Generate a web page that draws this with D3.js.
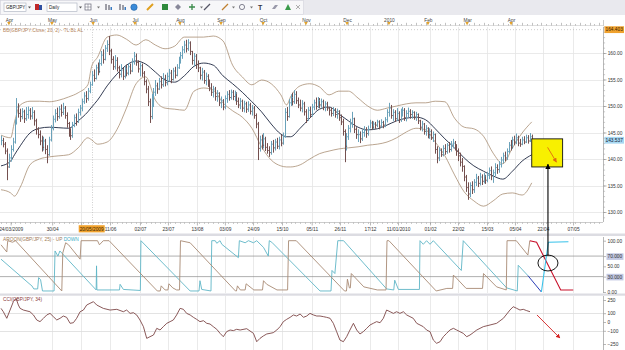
<!DOCTYPE html>
<html><head><meta charset="utf-8">
<script src="https://cdn.jsdelivr.net/npm/d3@7"></script>
<style>
html,body{margin:0;padding:0;background:#fff;}
svg{display:block;}
</style></head><body>
<svg id="c" width="625" height="350"></svg>
<script>
// ---------------- DATA ----------------
const highs=[144.4,144.0,143.2,142.0,141.0,142.6,144.0,147.5,151.5,150.5,
149.5,149.6,149.3,149.8,149.9,149.6,149.8,149.2,147.6,146.0,
145.4,144.4,144.2,143.8,142.6,144.2,146.4,148.2,149.4,149.7,
150.0,150.3,150.6,150.0,148.8,147.0,145.8,147.0,148.4,148.6,
149.5,150.2,151.4,152.6,152.8,153.4,154.6,156.6,156.9,157.8,
158.2,158.8,160.4,160.7,161.5,162.4,163.2,160.8,159.4,159.6,
159.2,157.6,157.9,157.2,157.6,157.8,158.1,158.0,159.0,160.2,
159.9,158.6,158.2,158.0,156.6,155.0,153.8,151.4,152.3,153.4,
154.9,154.4,155.3,155.6,156.2,155.9,156.3,157.0,156.8,157.2,
157.4,157.9,159.3,160.2,161.3,162.3,162.5,162.6,162.2,160.4,
160.0,159.8,158.6,157.4,157.2,156.8,156.3,156.0,155.0,154.3,
153.8,153.6,153.0,152.6,151.8,151.3,152.0,152.8,153.0,153.1,
153.0,152.9,152.6,151.6,151.5,151.2,151.0,150.8,150.9,150.6,
150.2,150.0,148.6,147.0,144.4,144.6,144.9,144.2,143.0,142.4,
143.4,143.6,143.8,144.0,144.2,144.6,145.0,149.6,149.8,151.3,
152.2,152.5,153.0,152.8,151.6,151.2,151.1,150.8,149.4,149.8,
149.9,150.4,151.2,151.6,151.7,151.5,151.4,151.2,150.9,150.8,
149.8,149.7,149.8,149.6,149.5,149.2,148.4,147.6,145.6,144.9,
146.4,147.6,148.9,147.8,146.0,145.6,145.2,145.6,146.2,146.0,
146.3,147.4,147.2,147.1,147.0,147.4,147.3,147.5,147.2,147.9,
149.4,150.6,150.2,149.4,149.2,149.6,149.0,149.5,149.8,149.6,
149.2,149.7,149.4,149.2,149.0,148.9,148.6,147.4,147.2,146.8,
146.4,146.0,145.8,145.6,145.2,144.8,142.4,142.2,142.0,142.6,
142.8,143.0,143.2,143.4,143.8,143.4,142.8,142.0,141.2,140.2,
138.8,137.0,135.6,135.6,135.8,136.2,137.2,136.8,137.4,137.1,
137.4,137.0,137.6,138.4,138.6,138.0,139.2,139.0,139.6,140.4,
141.2,141.4,142.0,143.2,143.6,144.2,144.4,144.8,144.4,143.8,
144.2,144.3,144.6,144.5,144.9,144.6];
const lows=[142.6,142.2,140.9,136.0,138.3,139.5,141.4,142.9,146.5,147.8,
147.0,147.5,146.8,147.2,147.6,147.4,147.5,146.3,144.6,143.9,
142.6,141.4,141.6,140.9,139.2,140.6,143.3,145.4,146.9,147.2,
147.6,148.0,148.3,147.6,145.9,144.2,143.6,144.0,146.0,146.3,
146.8,148.2,149.0,150.4,150.6,151.0,152.4,153.8,154.6,155.0,
155.8,156.2,157.6,158.0,158.6,160.2,159.6,158.0,156.8,156.9,
156.5,155.2,155.4,154.9,155.2,155.6,155.8,156.0,156.4,157.8,
157.6,156.3,155.6,155.5,153.9,152.4,150.0,146.8,147.5,149.8,
151.9,152.3,153.0,153.3,153.6,153.7,153.9,154.6,154.3,154.8,
155.2,155.6,157.0,158.0,158.9,160.0,160.1,160.4,159.6,157.8,
157.5,157.0,156.4,155.0,154.8,154.2,153.9,153.6,152.8,151.9,
151.6,151.0,150.8,150.0,149.6,149.2,149.4,150.6,151.0,151.2,
151.1,150.9,150.2,149.6,149.4,148.9,148.8,148.7,148.9,148.4,
148.2,147.6,145.8,139.8,141.4,141.8,142.0,141.5,141.0,140.4,
140.8,141.2,141.6,141.9,141.8,142.4,142.7,144.0,147.2,147.8,
150.0,150.1,150.4,150.4,149.6,149.0,148.8,148.2,146.8,147.2,
147.8,148.0,149.2,149.3,149.6,149.6,149.7,149.2,149.0,149.1,
148.2,148.0,148.1,147.8,147.6,147.2,146.4,144.4,139.4,141.6,
143.6,145.0,145.9,144.9,143.8,143.2,143.0,143.4,144.2,144.0,
144.4,145.8,145.5,145.6,145.7,146.0,145.6,145.9,145.8,146.0,
146.9,148.0,147.6,147.2,147.0,147.2,146.8,147.0,148.0,147.2,
147.1,147.8,147.6,147.6,147.4,147.2,146.6,145.4,145.2,144.6,
144.4,143.9,143.8,143.6,143.2,141.0,139.2,139.6,140.4,140.5,
140.8,141.0,141.2,141.4,142.0,141.6,140.6,139.6,138.6,137.6,
135.8,133.8,132.3,132.8,133.4,133.6,134.9,134.7,135.0,135.1,
135.4,135.3,135.6,136.2,136.0,135.5,136.8,137.2,137.4,138.4,
139.2,139.6,139.8,141.1,141.6,141.9,142.6,142.8,142.4,142.3,
142.6,142.8,143.0,142.9,143.2,143.1];
const closes=[143.5,142.8,141.5,138.5,140.2,141.8,143.2,146.8,149.8,148.6,
148.0,148.9,147.6,148.4,149.2,148.1,148.8,147.2,145.6,144.6,
143.4,142.2,143.4,141.8,140.8,143.6,145.8,147.5,148.6,148.0,
149.4,148.8,149.6,148.2,146.7,145.0,144.4,146.4,147.8,147.0,
148.8,149.6,150.8,151.9,151.4,152.8,154.0,155.8,155.2,157.2,
156.5,158.0,159.6,158.8,160.9,161.6,160.4,158.8,157.4,158.6,
157.2,156.0,156.8,155.6,157.0,156.2,157.4,156.6,158.3,159.4,
158.2,157.0,157.6,156.2,154.6,153.2,150.8,148.0,150.9,152.6,
153.8,153.2,154.6,154.0,155.2,154.4,155.6,156.2,155.0,156.6,
155.8,157.2,158.6,159.5,160.6,161.5,160.8,161.9,160.3,158.6,
159.4,157.8,157.2,155.8,156.4,154.8,155.6,154.2,153.4,152.6,
153.2,151.8,152.4,150.6,151.0,149.8,151.4,152.2,151.6,152.6,
151.8,152.4,150.9,150.2,150.9,149.6,150.4,149.4,150.2,149.0,
149.6,148.2,146.6,142.0,143.6,142.6,143.8,142.2,141.6,141.2,
142.8,142.1,143.2,142.4,143.6,143.0,144.2,148.8,148.0,150.6,
151.6,150.8,152.2,151.0,150.2,149.6,150.4,148.9,147.6,149.2,
148.4,149.8,150.6,149.9,151.0,150.2,150.8,149.8,150.4,149.6,
149.2,148.6,149.3,148.4,149.0,147.8,147.0,145.2,142.4,144.2,
145.8,146.6,147.6,145.6,144.6,144.6,143.8,145.0,145.4,144.8,
145.6,146.8,146.0,146.6,146.4,147.0,146.2,146.9,146.4,147.4,
148.8,149.6,148.2,148.8,147.6,148.6,147.4,148.8,149.2,147.8,
148.6,149.0,148.4,148.8,147.8,148.4,147.2,146.0,146.6,145.2,
145.8,144.6,145.2,144.0,144.6,141.8,140.2,141.6,140.8,142.0,
141.4,142.6,141.8,142.8,143.0,142.2,141.4,140.6,139.4,138.6,
136.6,134.6,133.4,135.0,134.2,135.6,136.4,135.4,136.6,135.8,
136.8,136.0,136.9,137.8,136.8,137.4,138.4,138.0,139.0,139.8,
140.6,140.2,141.4,142.6,142.2,143.6,143.2,144.0,143.0,142.8,
143.6,143.2,144.0,143.4,144.2,143.537];

// Bollinger band values (bar index -> price)
const bandIdx=[0,5,7,10,15,20,25,30,35,40,45,47,50,55,60,65,70,75,80,85,90,95,100,105,110,115,120,125,130,135,140,145,148,150,155,160,165,170,175,180,185,190,195,200,205,210,215,220,225,230,235,240,245,250,255,260,265,270,275];
const bandUpper=[144.5,144.0,147.0,150.2,150.9,150.9,150.8,151.1,151.7,152.5,154.0,157.5,159.2,163.0,163.4,162.6,161.5,162.5,161.5,160.8,161.3,163.0,163.0,163.0,163.2,162.3,157.7,155.5,154.0,154.9,154.2,152.1,150.2,151.7,153.8,154.2,153.6,152.1,152.8,152.8,151.5,150.0,149.2,149.6,150.0,150.4,150.6,150.6,150.9,150.8,147.7,146.0,145.7,144.3,141.1,139.1,142.1,144.9,147.0];
const bandMiddle=[138.7,139.6,140.8,142.5,144.9,145.8,146.0,145.9,145.8,147.2,148.9,149.8,151.1,153.8,156.0,157.7,158.5,157.9,156.4,154.9,154.5,155.7,157.5,158.1,157.7,155.7,154.2,152.6,150.8,148.9,146.6,144.7,144.2,144.2,145.8,147.7,149.4,149.8,148.5,147.2,146.0,145.5,145.7,146.4,147.2,147.7,147.9,147.4,145.7,143.8,142.1,140.2,138.7,137.7,136.8,136.2,137.7,139.6,140.8];
const bandLower=[134.2,133.6,133.0,134.7,138.9,140.0,140.4,140.6,140.8,142.1,144.0,143.6,142.8,143.2,145.5,149.6,154.2,155.5,151.1,149.6,149.4,149.2,152.8,153.4,153.0,150.6,149.1,147.9,145.8,142.3,139.8,138.7,138.5,138.5,138.9,140.0,141.0,141.5,141.9,142.1,142.3,142.6,142.8,143.2,144.0,145.1,145.8,145.5,143.2,140.6,137.0,133.8,132.1,131.1,132.1,133.4,133.6,133.2,135.5];

// Aroon(25) vertices
const upIdx=[0,3,3.5,6,7.5,31.5,32,33.5,35,41,41.5,50,51,53,56,81,82.5,83,85,86.5,87,89,91,92.5,93,98,121.5,122,122.5,124,126.5,127,131,135.5,136,137.7,143,148.5,149,153,178,179,179.5,180.5,181,181.5,183,188,195,199.5,200,201,225.5,231,234,234.4,236,241,249.5,250,250.8,256.8,261.8,262.2,267,273,274];
const upVal=[92,78,100,97,100,2,76,96,92,64,100,100,92,100,100,2,2,12,4,4,16,8,4,4,100,96,2,2,12,4,4,16,4,4,22,15,4,4,100,100,2,2,25,8,8,36,30,10,4,4,100,100,2,7,7,33,27,7,7,36,33,10,4,100,100,72,100];
const downIdx=[0,15,16,17,19,19.5,20.5,21.5,27.5,28,29.5,30.5,49.3,49.5,49.7,61.4,61.7,63.4,72.2,72.5,98,102.6,103.1,104,108.8,109.2,111,111.8,113.5,114.4,123,123.5,126.5,128.2,130.8,132.5,136,138.5,139,140.3,165.3,171,171.5,173,174.5,177.5,199.8,203.5,204,205.9,216.8,217.1,218.8,220.5,222.3,224,238.5,239.5,262,267.5,268,273];
const downVal=[64,15,12,6,6,28,24,2,2,80,70,80,4,51,4,4,15,5,3,100,2,2,22,5,2,100,100,95,100,93,67,100,96,100,96,100,87,70,100,97,2,2,42,36,100,100,6,4,23,5,5,100,93,100,93,100,42,100,8,2,52,32];
// hand-drawn projections
const upProjIdx=[274,277.5,290,296.5], upProjVal=[100,97,4,4];
const downProjIdx=[273,280], downProjVal=[32,0];
const down2ProjIdx=[280,283.6,294], down2ProjVal=[0,97,98];

// CCI(34)
const cciIdx=[0,1.2,3,4.7,6.4,7.8,9,9.9,11.6,15,16.8,18.5,20.2,22,23.7,25.4,27.1,28.9,30.6,32.3,34,35.8,37.5,39.2,41,42.7,44.4,46.1,47.9,49.6,51.3,53,56.5,60,63.4,65.1,66.9,68.6,70.3,72,73.8,75.5,77.2,79,80.7,82.4,84.1,85.9,87.6,89.3,91,92.8,94.5,96.2,98,99.7,101.4,103.1,104.9,106.6,108.3,110,111.8,113.5,115.2,116.9,118.7,120.4,122.1,123.9,127.3,130.8,132.5,134.2,135.9,137.7,139.4,141.1,142.9,144.6,146.3,148,149.8,151.5,153.2,155,156.7,158.4,160.1,161.9,163.6,165.3,167,168.7,170.5,172.2,173.9,175.6,177.4,179.1,180.8,182.6,184.3,186,187.7,189.5,191.2,192.9,194.6,196.4,198.1,199.8,201.6,203.3,205,206.7,208.5,210.2,211.9,213.6,215.4,217.1,218.8,220.5,222.3,224,225.7,227.5,229.2,230.9,232.6,234.4,236.1,237.8,239.5,241.3,243,244.7,246.5,248.2,249.9,253.4,256.8,260.3,263.7,265.4,267.2,268.9,270.6,272.4,274.1];
const cciVal=[155,117,42,136,231,269,193,155,136,117,
80,23,4,42,80,98,61,23,42,68,
53,-15,-8,42,117,136,193,212,231,193,
174,155,136,144,117,136,98,106,80,23,
-53,-186,-167,-148,-72,-91,-53,-15,4,23,
80,155,144,98,80,53,30,4,15,-15,
-23,-53,-83,-129,-167,-110,-91,-98,-83,-91,
-76,-129,-224,-186,-159,-136,-129,-121,-91,-53,
4,30,53,80,68,91,53,68,98,80,
68,68,61,53,42,-15,-110,-205,-224,-167,
-91,-15,-91,-136,-110,-72,-34,-15,4,-8,
42,136,117,98,117,98,117,80,61,42,
-15,-34,-53,-91,-110,-205,-242,-224,-167,-129,
-91,-72,-91,-110,-129,-167,-148,-121,-91,-72,
-53,-34,-15,42,136,174,155,136,144,129,117];

// axis labels (the 21/05 tick label is hidden under the cursor date box in the reference)
const priceTicks=[130,135,140,145,150,155,160];
const dateIdx=[5,26.5,41.5,56.5,72,86.5,101.5,116,130.6,145.6,161,175.6,191.2,205.7,222.3,236.8,251.8,266.3,280.8,296.4];
const dateLbl=["24/03/2009","30/04","","11/06","02/07","23/07","13/08","03/09","24/09","15/10","05/11","26/11","17/12","11/01/2010","01/02","22/02","15/03","05/04","22/04","07/05"];
const monthIdx=[4.1,26.4,47.7,69.4,92.7,114,135.8,158,179.3,201,221.2,241.5,264.3];
const monthLbl=["Apr","May","Jun","Jul","Aug","Sep","Oct","Nov","Dec","2010","Feb","Mar","Apr"];
const aroonTicks=[100,70,50,30,0], aroonTickLbl=["100.00","70.000","50.00","30.000","0.00"];
const cciTicks=[250,100,0,-100,-250];
const cursorIdx=47, cursorLbl="20/05/2009";
const maxPrice=164.403;

// ---------------- DRAW ----------------
const FONT='"Liberation Sans", Arial, sans-serif';
const svg=d3.select('#c').attr('font-family',FONT);
const PR=603;
const x=d3.scaleLinear().domain([0,312]).range([1,1+312*1.93]);
const yP=d3.scaleLinear().domain([130,160]).range([212,53]);
const yA=d3.scaleLinear().domain([0,100]).range([292,240.7]);
const yC=d3.scaleLinear().domain([-250,250]).range([344,300]);
const MT=27, MB=222, AT=237, AB=293, CT=296, CB=350;
const GRID='#e4e4e4';

const defs=svg.append('defs');
defs.append('clipPath').attr('id','cm').append('rect').attr('x',0).attr('y',MT).attr('width',PR).attr('height',MB-MT);
defs.append('clipPath').attr('id','ca').append('rect').attr('x',0).attr('y',AT).attr('width',PR).attr('height',AB-AT);
defs.append('clipPath').attr('id','cc').append('rect').attr('x',0).attr('y',CT).attr('width',PR).attr('height',CB-CT);
function marker(id,color){
  defs.append('marker').attr('id',id).attr('viewBox','0 0 10 10').attr('refX',9).attr('refY',5)
   .attr('markerWidth',5).attr('markerHeight',5).attr('orient','auto')
   .append('path').attr('d','M0,0 L10,5 L0,10 z').attr('fill',color);
}
marker('mo','#e06a10'); marker('mb','#000'); marker('mr','#d42020');

// toolbar
svg.append('rect').attr('x',0).attr('y',0).attr('width',625).attr('height',15).attr('fill','#e9e9ee');
svg.append('rect').attr('x',0.5).attr('y',0.5).attr('width',303).attr('height',14).attr('fill','#f7f7f9').attr('stroke','#d2d2da').attr('stroke-width',0.6);
function dropdown(x0,w,label){
  svg.append('rect').attr('x',x0).attr('y',3).attr('width',w).attr('height',8.5).attr('fill','#fff').attr('stroke','#a8b0bc').attr('stroke-width',0.6);
  svg.append('text').attr('x',x0+2).attr('y',9.2).attr('font-size',4.6).attr('fill','#222').text(label);
  svg.append('path').attr('d',`M${x0+w+2},6.5 l3,0 l-1.5,2 z`).attr('fill','#555');
}
dropdown(4,22,'GBP/JPY'); dropdown(47,30,'Daily');
const tb=svg.append('g');
tb.append('rect').attr('x',35).attr('y',4).attr('width',4).attr('height',6).attr('fill','#c02828');
tb.append('rect').attr('x',39).attr('y',5).attr('width',3).attr('height',5).attr('fill','#3050a0');
tb.append('rect').attr('x',85).attr('y',4).attr('width',6).attr('height',6).attr('fill','#fff').attr('stroke','#667').attr('stroke-width',0.7);
tb.append('path').attr('d','M88,4v6M85,7h6').attr('stroke','#667').attr('stroke-width',0.5);
[97,200,232,250].forEach(a=>tb.append('path').attr('d',`M${a},6.5 l3,0 l-1.5,2 z`).attr('fill','#777'));
[106,120].forEach(a=>{tb.append('path').attr('d',`M${a},4v6M${a+3},5v5`).attr('stroke','#445').attr('stroke-width',1);
  tb.append('rect').attr('x',a+4.5).attr('y',7).attr('width',1.5).attr('height',3).attr('fill','#3a7ac0');});
tb.append('circle').attr('cx',134).attr('cy',7.2).attr('r',3.2).attr('fill','#3a8ad8').attr('stroke','#1d5a9a').attr('stroke-width',0.5);
tb.append('path').attr('d','M147,10 L153,4').attr('stroke','#e0a020').attr('stroke-width',2);
tb.append('rect').attr('x',162).attr('y',4).attr('width',6).attr('height',6).attr('fill','#2f8a3c');
tb.append('path').attr('d','M178,4 l3,3 l-3,3 l-3,-3 z').attr('fill','#889');
tb.append('path').attr('d','M192,4v6M189,7h6').attr('stroke','#3a8a4a').attr('stroke-width',1.3);
tb.append('path').attr('d','M204,10 L210,4').attr('stroke','#556').attr('stroke-width',1.2);
tb.append('path').attr('d','M222,10 L228,4').attr('stroke','#c08030').attr('stroke-width',1.2);
tb.append('circle').attr('cx',242).attr('cy',7).attr('r',2.6).attr('fill','none').attr('stroke','#667').attr('stroke-width',0.8);
tb.append('text').attr('x',258).attr('y',10).attr('font-size',7).attr('font-weight','bold').attr('fill','#334').text('T');
tb.append('path').attr('d','M272,9 l3,-4 h3 l-3,4 z').attr('fill','#99a');
tb.append('path').attr('d','M285,10 l3,-6 l3,6 z').attr('fill','#3a9a4a');
tb.append('path').attr('d','M296,5 l4,4 M300,5 l-4,4').attr('stroke','#999').attr('stroke-width',0.8);

// month ruler
svg.append('rect').attr('x',0).attr('y',15).attr('width',625).attr('height',12).attr('fill','#fff');
svg.append('line').attr('x1',0).attr('x2',PR).attr('y1',25.5).attr('y2',25.5).attr('stroke','#c8c8c8').attr('stroke-width',0.6);
const rulerTicks=d3.range(0,312,2.5);
svg.append('g').selectAll('line').data(rulerTicks).join('line')
  .attr('x1',d=>Math.round(x(d))+0.5).attr('x2',d=>Math.round(x(d))+0.5)
  .attr('y1',(d,i)=>i%2?24:22.8).attr('y2',25.5).attr('stroke','#999').attr('stroke-width',0.6);
svg.append('line').attr('x1',PR+0.5).attr('x2',PR+0.5).attr('y1',20).attr('y2',26).attr('stroke','#aaa').attr('stroke-width',0.6);
const mAxis=d3.axisTop(x).tickValues(monthIdx).tickFormat((d,i)=>monthLbl[i]).tickSize(0).tickPadding(3.5);
const gm=svg.append('g').attr('transform','translate(0,25)').call(mAxis);
gm.select('.domain').remove();
gm.selectAll('text').attr('font-size',4.8).attr('fill','#444').attr('font-family',FONT);
svg.append('g').selectAll('path').data(monthIdx).join('path')
  .attr('d',d=>`M${x(d)-1.8},22 h3.6 l-1.8,3.3 z`).attr('fill','#e2a22a');

// ---- main panel grid ----
const gMainGrid=svg.append('g');
gMainGrid.selectAll('line.h').data(priceTicks).join('line').attr('class','h')
  .attr('x1',0).attr('x2',PR).attr('y1',d=>Math.round(yP(d))+0.5).attr('y2',d=>Math.round(yP(d))+0.5).attr('stroke',GRID).attr('stroke-width',0.8);
gMainGrid.selectAll('line.v').data(dateIdx.slice(1)).join('line').attr('class','v')
  .attr('x1',d=>Math.round(x(d))+0.5).attr('x2',d=>Math.round(x(d))+0.5).attr('y1',MT).attr('y2',MB).attr('stroke',GRID).attr('stroke-width',0.8);
svg.append('line').attr('x1',0).attr('x2',PR).attr('y1',yP(maxPrice)).attr('y2',yP(maxPrice)).attr('stroke','#aaa').attr('stroke-width',0.6).attr('stroke-dasharray','1,2');
svg.append('line').attr('x1',Math.round(x(cursorIdx))+0.5).attr('x2',Math.round(x(cursorIdx))+0.5).attr('y1',MT).attr('y2',MB+3).attr('stroke','#bbb').attr('stroke-width',0.7).attr('stroke-dasharray','1,1.5');

// legend
svg.append('text').attr('x',3).attr('y',31.8).attr('font-size',4.8).attr('fill','#b8875e').text('BB(GBP/JPY:Close, 20, 2) -  TL  BL  AL');

// bands
const gm2=svg.append('g').attr('clip-path','url(#cm)');
const bandLine=arr=>d3.line().x((d,i)=>x(bandIdx[i])).y(d=>yP(d)).curve(d3.curveMonotoneX)(arr);
gm2.append('path').attr('d',bandLine(bandUpper)).attr('fill','none').attr('stroke','#a88e74').attr('stroke-width',0.8);
gm2.append('path').attr('d',bandLine(bandLower)).attr('fill','none').attr('stroke','#a88e74').attr('stroke-width',0.8);
gm2.append('path').attr('d',bandLine(bandMiddle)).attr('fill','none').attr('stroke','#1c2640').attr('stroke-width',0.9);

// bars
const UPC='#6aa2ba', DNC='#74504f';
const barData=closes.map((c,i)=>({i,c,h:highs[i],l:lows[i],up:i>0?c>=closes[i-1]:true}));
const bx=d=>Math.round(x(d.i))+0.5;
gm2.selectAll('line.hl').data(barData).join('line').attr('class','hl')
  .attr('x1',bx).attr('x2',bx).attr('y1',d=>yP(d.h)).attr('y2',d=>yP(d.l))
  .attr('stroke',d=>d.up?UPC:DNC).attr('stroke-width',1);
gm2.selectAll('line.cl').data(barData).join('line').attr('class','cl')
  .attr('x1',d=>bx(d)+0.5).attr('x2',d=>bx(d)+1.6).attr('y1',d=>yP(d.c)).attr('y2',d=>yP(d.c))
  .attr('stroke',d=>d.up?UPC:DNC).attr('stroke-width',0.8);

// price axis
svg.append('line').attr('x1',PR+0.5).attr('x2',PR+0.5).attr('y1',MT).attr('y2',MB).attr('stroke','#9a9a9a').attr('stroke-width',0.7);
const minorP=svg.append('g').attr('transform',`translate(${PR+0.5},0)`).call(d3.axisRight(yP).tickValues(d3.range(129,166)).tickSize(1.6).tickFormat(''));
minorP.select('.domain').remove(); minorP.selectAll('line').attr('stroke','#999').attr('stroke-width',0.5);
const pAx=svg.append('g').attr('transform',`translate(${PR+0.5},0)`).call(d3.axisRight(yP).tickValues(priceTicks).tickFormat(d=>d.toFixed(2)).tickSize(3).tickPadding(1.2));
pAx.select('.domain').remove(); pAx.selectAll('line').attr('stroke','#888').attr('stroke-width',0.6);
pAx.selectAll('text').attr('font-size',4.8).attr('fill','#333').attr('font-family',FONT);
function valBox(yv,label,fill,txt){
  const g=svg.append('g');
  g.append('rect').attr('x',PR+1.5).attr('y',yv-3.4).attr('width',19.5).attr('height',6.8).attr('fill',fill);
  g.append('text').attr('x',PR+2.5).attr('y',yv+1.7).attr('font-size',4.8).attr('fill',txt).text(label);
}
valBox(yP(maxPrice),maxPrice.toFixed(3),'#f0a22e','#3a2200');
valBox(yP(closes[closes.length-1]),closes[closes.length-1].toFixed(3),'#a8d8f2','#123');

// date axis (bottom of main)
svg.append('line').attr('x1',0).attr('x2',PR).attr('y1',MB+0.5).attr('y2',MB+0.5).attr('stroke','#aaa').attr('stroke-width',0.6);
svg.append('g').selectAll('line').data(d3.range(0,312,2.5)).join('line')
  .attr('x1',d=>Math.round(x(d))+0.5).attr('x2',d=>Math.round(x(d))+0.5).attr('y1',MB+0.5).attr('y2',MB+2).attr('stroke','#999').attr('stroke-width',0.5);
const dAx=svg.append('g').attr('transform',`translate(0,${MB+0.5})`).call(d3.axisBottom(x).tickValues(dateIdx).tickFormat((d,i)=>dateLbl[i]).tickSize(3).tickPadding(2.5));
dAx.select('.domain').remove(); dAx.selectAll('line').attr('stroke','#888').attr('stroke-width',0.6);
dAx.selectAll('text').attr('font-size',4.8).attr('fill','#333').attr('font-family',FONT);
const cx0=x(cursorIdx);
svg.append('rect').attr('x',cx0-13).attr('y',225.2).attr('width',26).attr('height',7.2).attr('fill','#f0a22e');
svg.append('text').attr('x',cx0).attr('y',230.6).attr('text-anchor','middle').attr('font-size',4.8).attr('fill','#3a2200').text(cursorLbl);

// separators
svg.append('rect').attr('x',0).attr('y',233.5).attr('width',625).attr('height',2.5).attr('fill','#dcdce2');
svg.append('rect').attr('x',0).attr('y',293.5).attr('width',625).attr('height',2.2).attr('fill','#dcdce2');

// ---- Aroon panel ----
const ga=svg.append('g');
ga.selectAll('line.v').data(dateIdx.slice(1)).join('line').attr('class','v')
  .attr('x1',d=>Math.round(x(d))+0.5).attr('x2',d=>Math.round(x(d))+0.5).attr('y1',AT).attr('y2',AB).attr('stroke',GRID).attr('stroke-width',0.8);
ga.selectAll('line.h').data([70,30]).join('line').attr('class','h')
  .attr('x1',0).attr('x2',PR).attr('y1',d=>yA(d)).attr('y2',d=>yA(d)).attr('stroke','#8c8c8c').attr('stroke-width',0.7);
const gac=svg.append('g').attr('clip-path','url(#ca)');
const aLine=(ix,vals)=>d3.line().x((d,i)=>x(ix[i])).y(d=>yA(d))(vals);
gac.append('path').attr('d',aLine(downIdx,downVal)).attr('fill','none').attr('stroke','#5fb6c6').attr('stroke-width',0.9);
gac.append('path').attr('d',aLine(upIdx,upVal)).attr('fill','none').attr('stroke','#a88a74').attr('stroke-width',0.9);
gac.append('path').attr('d',aLine(upProjIdx,upProjVal)).attr('fill','none').attr('stroke','#c8102a').attr('stroke-width',1.1);
gac.append('path').attr('d',aLine(downProjIdx,downProjVal)).attr('fill','none').attr('stroke','#2b3fb8').attr('stroke-width',1);
gac.append('path').attr('d',aLine(down2ProjIdx,down2ProjVal)).attr('fill','none').attr('stroke','#38c2ea').attr('stroke-width',1.1);
const at=svg.append('text').attr('x',3).attr('y',241.3).attr('font-size',4.8);
at.append('tspan').attr('fill','#a07a58').text('AROON(GBP/JPY, 25) -  ');
at.append('tspan').attr('fill','#a07a58').text('UP  ');
at.append('tspan').attr('fill','#3aaac4').text('DOWN');
svg.append('line').attr('x1',PR+0.5).attr('x2',PR+0.5).attr('y1',AT).attr('y2',AB).attr('stroke','#9a9a9a').attr('stroke-width',0.7);
const aAx=svg.append('g').attr('transform',`translate(${PR+0.5},0)`).call(d3.axisRight(yA).tickValues(aroonTicks).tickFormat((d,i)=>aroonTickLbl[i]).tickSize(2.5).tickPadding(1.5));
aAx.select('.domain').remove(); aAx.selectAll('line').attr('stroke','#888').attr('stroke-width',0.6);
aAx.selectAll('text').attr('font-size',4.8).attr('fill','#333').attr('font-family',FONT);
[70,30].forEach(v=>{aAx.selectAll('.tick').filter(d=>d===v).insert('rect','text').attr('x',3).attr('y',-3.3).attr('width',17).attr('height',6.6).attr('fill','#c2c8e2');});

// ---- CCI panel ----
const gc=svg.append('g');
gc.selectAll('line.v').data(dateIdx.slice(1)).join('line').attr('class','v')
  .attr('x1',d=>Math.round(x(d))+0.5).attr('x2',d=>Math.round(x(d))+0.5).attr('y1',CT).attr('y2',CB).attr('stroke',GRID).attr('stroke-width',0.8);
gc.selectAll('line.h').data([100,-100]).join('line').attr('class','h')
  .attr('x1',0).attr('x2',PR).attr('y1',d=>Math.round(yC(d))+0.5).attr('y2',d=>Math.round(yC(d))+0.5).attr('stroke','#dcdcdc').attr('stroke-width',0.8);
const gcc=svg.append('g').attr('clip-path','url(#cc)');
gcc.append('path').attr('d',d3.line().x((d,i)=>x(cciIdx[i])).y(d=>yC(d))(cciVal)).attr('fill','none').attr('stroke','#7d4646').attr('stroke-width',0.9);
svg.append('text').attr('x',3).attr('y',300.8).attr('font-size',4.8).attr('fill','#8b3a3a').text('CCI(GBP/JPY, 34)');
svg.append('line').attr('x1',PR+0.5).attr('x2',PR+0.5).attr('y1',CT).attr('y2',CB).attr('stroke','#9a9a9a').attr('stroke-width',0.7);
const cAx=svg.append('g').attr('transform',`translate(${PR+0.5},0)`).call(d3.axisRight(yC).tickValues(cciTicks).tickSize(2.5).tickPadding(1.5));
cAx.select('.domain').remove(); cAx.selectAll('line').attr('stroke','#888').attr('stroke-width',0.6);
cAx.selectAll('text').attr('font-size',4.8).attr('fill','#333').attr('font-family',FONT);

// ---- annotations ----
const annIdx=283.4;
svg.append('rect').attr('x',x(275)).attr('y',yP(143.8)).attr('width',x(291)-x(275)).attr('height',yP(138.5)-yP(143.8))
  .attr('fill','#f8f000').attr('stroke','#111').attr('stroke-width',0.9);
svg.append('line').attr('x1',x(283.2)).attr('y1',yP(142.2)).attr('x2',x(287.8)).attr('y2',yP(139.4))
  .attr('stroke','#e06a10').attr('stroke-width',0.9).attr('marker-end','url(#mo)');
svg.append('line').attr('x1',x(annIdx)).attr('x2',x(annIdx)).attr('y1',yA(70.5)).attr('y2',yP(139.0))
  .attr('stroke','#000').attr('stroke-width',1.1).attr('marker-end','url(#mb)');
svg.append('ellipse').attr('cx',x(annIdx)).attr('cy',yA(56.5)).attr('rx',x(annIdx+5.2)-x(annIdx)).attr('ry',yA(41)-yA(56.5))
  .attr('fill','none').attr('stroke','#000').attr('stroke-width',0.9);
svg.append('line').attr('x1',x(277.7)).attr('y1',yC(80)).attr('x2',x(289.6)).attr('y2',yC(-182))
  .attr('stroke','#d42020').attr('stroke-width',0.9).attr('marker-end','url(#mr)');
</script>
</body></html>
